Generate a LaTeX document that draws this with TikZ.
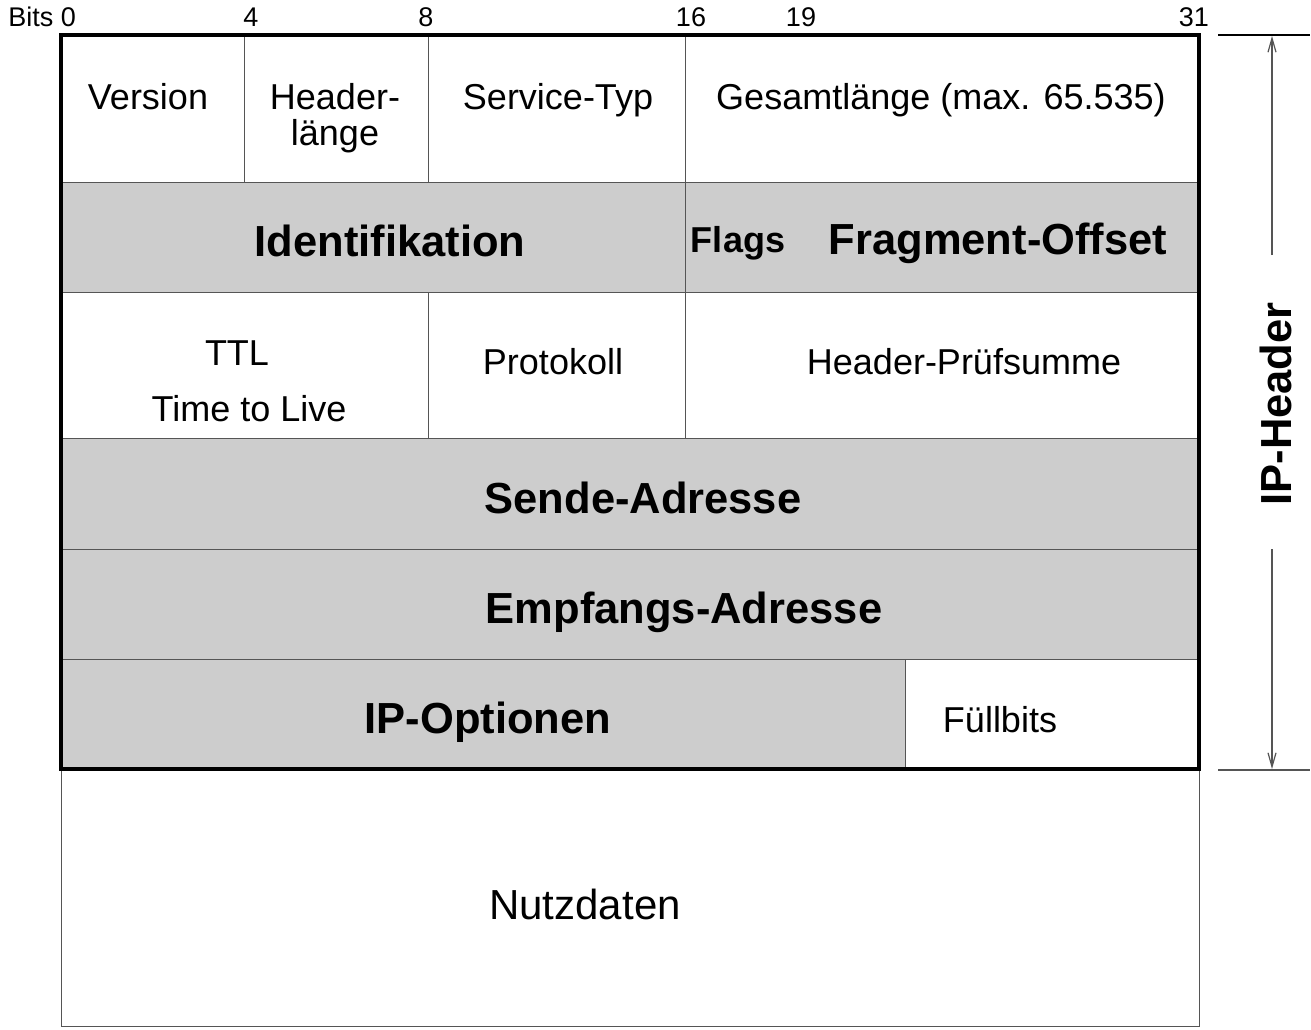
\documentclass[tikz,border=0pt]{standalone}
\usepackage{fontspec}
\setmainfont{Liberation Sans}
\usetikzlibrary{arrows.meta}
\definecolor{fieldgray}{HTML}{CDCDCD}
\definecolor{rulegray}{HTML}{555555}
\begin{document}
\begin{tikzpicture}[x=1pt,y=-1pt,
  cell/.style={draw=rulegray,line width=1.2pt,inner sep=0pt,anchor=north west},
  shaded/.style={cell,fill=fieldgray},
  plain/.style={font=\fontsize{36}{38}\selectfont,inner sep=0pt},
  strong/.style={font=\fontsize{43.5}{45}\selectfont\bfseries,inner sep=0pt},
  bitlbl/.style={font=\fontsize{27}{29}\selectfont,inner sep=0pt,anchor=base},
  span/.style={draw=rulegray,line width=1.2pt,-{Straight Barb[length=14pt,width=8pt]}}]
\useasboundingbox (0,0) rectangle (1311,1029);

% header rows: cells
\node[cell,minimum width=183,minimum height=147] (ver) at (61,35) {};
\node[cell,minimum width=184,minimum height=147] (hl) at (244,35) {};
\node[cell,minimum width=257,minimum height=147] (tos) at (428,35) {};
\node[cell,minimum width=514,minimum height=147] (len) at (685,35) {};
\node[shaded,minimum width=624,minimum height=110] (id) at (61,182) {};
\node[shaded,minimum width=514,minimum height=110] (frag) at (685,182) {};
\node[cell,minimum width=367,minimum height=146] (ttl) at (61,292) {};
\node[cell,minimum width=257,minimum height=146] (prot) at (428,292) {};
\node[cell,minimum width=514,minimum height=146] (chk) at (685,292) {};
\node[shaded,minimum width=1138,minimum height=111] (src) at (61,438) {};
\node[shaded,minimum width=1138,minimum height=110] (dst) at (61,549) {};
\node[shaded,minimum width=844,minimum height=110] (opt) at (61,659) {};
\node[cell,minimum width=294,minimum height=110] (pad) at (905,659) {};
\node[cell,minimum width=1138,minimum height=257] (data) at (61,769) {};

% thick frame around the header
\draw[line width=3.5pt] (61,35) rectangle (1199,769);

% field labels
\node[plain] (tver) at (148,97) {Version};
\node[plain,align=center,font=\fontsize{36}{36}\selectfont] (thl) at (335,118) {Header-\\länge};
\node[plain] (ttos) at (558,100) {Service-Typ};
\node[plain] (tlen) at (941,100) {Gesamtlänge (max. 65.535)};
\node[strong] (tid) at (390,241) {Identifikation};
\node[strong,font=\fontsize{36}{38}\selectfont\bfseries] (tflags) at (738,243) {Flags};
\node[strong] (tfrag) at (998,243) {Fragment-Offset};
\node[plain] (tttl) at (237,353) {TTL};
\node[plain] (tlive) at (249,409) {Time to Live};
\node[plain] (tprot) at (553,362) {Protokoll};
\node[plain] (tchk) at (964,362) {Header-Prüfsumme};
\node[strong] (tsrc) at (643,498) {Sende-Adresse};
\node[strong] (tdst) at (684,612) {Empfangs-Adresse};
\node[strong] (topt) at (488,722) {IP-Optionen};
\node[plain] (tpad) at (1000,720) {Füllbits};
\node[plain,font=\fontsize{42}{44}\selectfont] (tdata) at (585,904) {Nutzdaten};

% bit positions
\node[bitlbl,anchor=base east] (b0) at (76,26) {Bits 0};
\node[bitlbl] (b4) at (251,26) {4};
\node[bitlbl] (b8) at (426,26) {8};
\node[bitlbl] (b16) at (691,26) {16};
\node[bitlbl] (b19) at (801,26) {19};
\node[bitlbl,anchor=base east] (b31) at (1209,26) {31};

% header extent marker
\coordinate (htop) at (1272,36);
\coordinate (hbot) at (1272,769);
\draw[line width=1.2pt] (1218,35) -- (1310,35);
\draw[draw=rulegray,line width=1.2pt] (1218,770) -- (1310,770);
\node[strong,rotate=90] (thead) at (1276,404) {IP-Header};
\coordinate (upstart) at (1272,255);
\coordinate (downstart) at (1272,549);
\draw[span] (upstart) -- (htop);
\draw[span] (downstart) -- (hbot);
\end{tikzpicture}
\end{document}
